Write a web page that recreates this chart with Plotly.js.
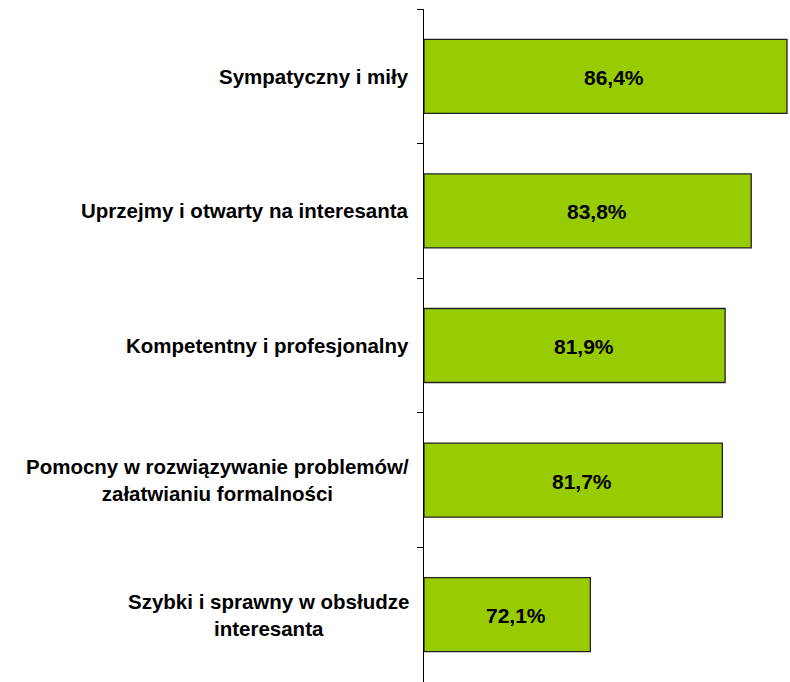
<!DOCTYPE html>
<html>
<head>
<meta charset="utf-8">
<script src="https://cdn.plot.ly/plotly-3.0.1.min.js"></script>
<style>html,body{margin:0;padding:0;background:#fff;}#chart{width:790px;height:682px;}</style>
</head>
<body>
<div id="chart"></div>
<script>
const categories = [
  "Sympatyczny i miły",
  "Uprzejmy i otwarty na interesanta",
  "Kompetentny i profesjonalny",
  "Pomocny w rozwiązywanie problemów/<br>załatwianiu formalności",
  "Szybki i sprawny w obsłudze<br>interesanta"
];
const values = [86.4, 83.8, 81.9, 81.7, 72.1];
const valueLabels = values.map(v => v.toFixed(1).replace('.', ',') + '%');
const axisStart = 60;

const font = "Liberation Sans, Arial, sans-serif";

const trace = {
  type: 'bar',
  orientation: 'h',
  x: values.map(v => v - axisStart),
  y: categories,
  base: axisStart,
  marker: {color: '#99CC00', line: {color: '#222', width: 1.3}},
  width: 0.55,
  hoverinfo: 'none'
};

const catAnnotations = categories.map(c => ({
  xref: 'paper', yref: 'y', x: 0, y: c,
  xanchor: 'right', yanchor: 'middle', xshift: -13,
  align: 'center', showarrow: false,
  text: '<b>' + c + '</b>',
  font: {family: font, size: 20.5, color: '#000'}
}));

const valAnnotations = values.map((v, i) => ({
  xref: 'x', yref: 'y', x: (axisStart + v) / 2, y: categories[i],
  xanchor: 'center', yanchor: 'middle', xshift: 9, yshift: -1,
  showarrow: false,
  text: '<b>' + valueLabels[i] + '</b>',
  font: {family: font, size: 21, color: '#000'}
}));

const layout = {
  width: 790, height: 682,
  margin: {l: 424, r: 0, t: 9, b: 0},
  paper_bgcolor: '#fff', plot_bgcolor: '#fff',
  showlegend: false,
  xaxis: {range: [60, 86.62], visible: false, fixedrange: true},
  yaxis: {
    type: 'category', categoryorder: 'array', categoryarray: categories,
    range: [4.5, -0.5],
    showline: true, linecolor: '#000', linewidth: 1,
    ticks: 'outside', ticklen: 6, tickcolor: '#000', tickwidth: 1,
    tickson: 'boundaries', showticklabels: false, showgrid: false, zeroline: false
  },
  annotations: catAnnotations.concat(valAnnotations)
};

Plotly.newPlot('chart', [trace], layout, {displayModeBar: false, staticPlot: true});
</script>
</body>
</html>
